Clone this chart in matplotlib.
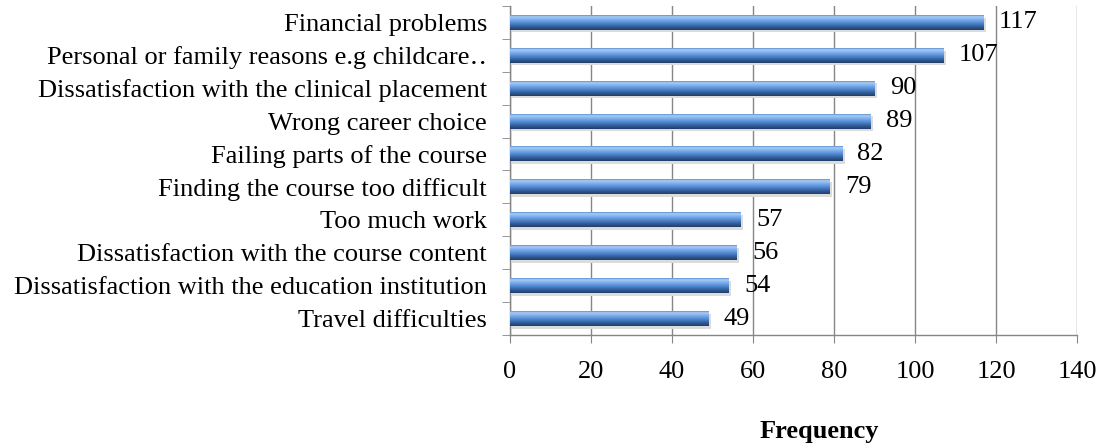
import matplotlib
matplotlib.use("Agg")
import matplotlib.pyplot as plt
import numpy as np
from matplotlib.colors import LinearSegmentedColormap
from matplotlib.ticker import FixedLocator

categories = [
    "Financial problems",
    "Personal or family reasons e.g childcare\u2025",
    "Dissatisfaction with the clinical placement",
    "Wrong career choice",
    "Failing parts of the course",
    "Finding the course too difficult",
    "Too much work",
    "Dissatisfaction with the course content",
    "Dissatisfaction with the education institution",
    "Travel difficulties",
]
values = [117, 107, 90, 89, 82, 79, 57, 56, 54, 49]
xticks = [0, 20, 40, 60, 80, 100, 120, 140]

plt.rcParams['font.family'] = ['Liberation Serif', 'DejaVu Serif']
FS = 19

fig = plt.figure(figsize=(11.03, 4.48), dpi=100)
ax = fig.add_axes([510/1103, 1-335/448, (1077-510)/1103, (335-6)/448])

n = len(categories)
ypos = np.arange(n)[::-1]  # first category at top
h = 0.45

cmap = LinearSegmentedColormap.from_list(
    "cyl", [(0.0, "#5b8dcf"), (0.1, "#a9cdf6"), (0.3, "#7cadec"),
            (0.55, "#4f86d0"), (0.8, "#2f5a94"), (1.0, "#1f3f6b")])
grad = np.linspace(0, 1, 64).reshape(-1, 1)

for y, v in zip(ypos, values):
    # shadow
    ax.barh(y - 0.08, v, height=h, left=0.6, color="#dcdcdc", zorder=2, linewidth=0)
    ax.imshow(grad, extent=(0, v, y - h/2, y + h/2), origin="upper",
              cmap=cmap, aspect="auto", zorder=3, interpolation="bilinear")
    ax.annotate(f"{v}", xy=(v, y), xytext=(11, 0), textcoords="offset points",
                ha="left", va="center", fontsize=FS, color="black", zorder=4)

ax.set_xlim(0, 140)
ax.set_ylim(-0.5, n - 0.5)
ax.set_xticks(xticks)
ax.set_xticklabels([str(t) for t in xticks], fontsize=FS)
ax.set_yticks(ypos)
ax.set_yticklabels(categories, fontsize=FS)
ax.yaxis.set_minor_locator(FixedLocator(np.arange(-0.5, n, 1.0)))
ax.tick_params(axis="y", which="major", length=0, pad=16.5)
ax.tick_params(axis="y", which="minor", length=6, color="#868686", direction="out")
ax.tick_params(axis="x", which="major", length=6, color="#868686", direction="out", pad=12.5)

ax.grid(axis="x", color="#868686", linewidth=1.0, zorder=0)
ax.set_axisbelow(True)
for s in ["top", "right"]:
    ax.spines[s].set_visible(False)
for s in ["left", "bottom"]:
    ax.spines[s].set_color("#868686")
    ax.spines[s].set_linewidth(1.0)

fig.text(819/1103, 1-438/448, "Frequency", ha="center", va="baseline",
         fontsize=FS, fontweight="bold")

fig.savefig("out.png", dpi=100)
